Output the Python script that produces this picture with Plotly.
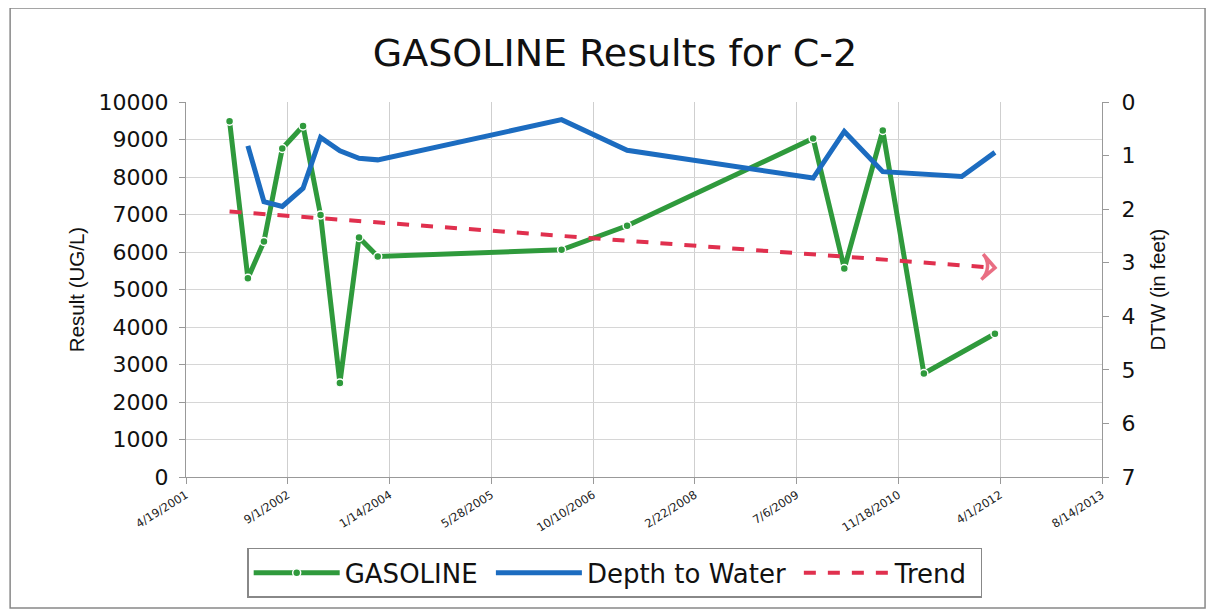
import plotly.graph_objects as go

# ---- data ----
gas_dates = ["2001-11-19", "2002-02-17", "2002-05-07", "2002-08-05", "2002-11-15",
             "2003-02-09", "2003-05-15", "2003-08-17", "2003-11-17", "2006-05-08",
             "2007-03-26", "2009-09-25", "2010-02-25", "2010-09-02", "2011-03-23",
             "2012-03-06"]
gas_values = [9490, 5300, 6280, 8760, 9360, 6990, 2510, 6390, 5880, 6060,
              6700, 9030, 5560, 9240, 2760, 3820]

dtw_dates = ["2002-02-17", "2002-05-07", "2002-08-05", "2002-11-15", "2003-02-09",
             "2003-05-15", "2003-08-17", "2003-11-17", "2006-05-08", "2007-03-26",
             "2009-09-25", "2010-02-25", "2010-09-02", "2011-09-25", "2012-03-06"]
dtw_values = [0.82, 1.86, 1.95, 1.61, 0.66, 0.91, 1.05, 1.08, 0.33, 0.90,
              1.42, 0.55, 1.30, 1.39, 0.94]

trend_dates = ["2001-11-19", "2012-03-06"]
trend_values = [7080, 5580]

x_range = ["2001-04-19", "2013-08-14"]
x_tick0 = "2001-04-19"
x_tick_days = 500

series_names = ["GASOLINE", "Depth to Water", "Trend"]

GREEN = "#2f9a3c"
BLUE = "#1c6cc0"
RED = "#e0304e"
WIDE = "DejaVu Sans, Liberation Sans, Arial, sans-serif"
ARIAL = "Liberation Sans, Arial, sans-serif"
PAD = "\u00a0"  # small trailing gap in legend entries

fig = go.Figure()

fig.add_trace(go.Scatter(
    x=gas_dates, y=gas_values, name=series_names[0] + PAD, mode="lines+markers",
    line=dict(color=GREEN, width=5),
    marker=dict(size=8, color=GREEN, line=dict(color="white", width=1.5)),
    yaxis="y"))

fig.add_trace(go.Scatter(
    x=dtw_dates, y=dtw_values, name=series_names[1] + PAD, mode="lines",
    line=dict(color=BLUE, width=5), yaxis="y2"))

fig.add_trace(go.Scatter(
    x=trend_dates, y=trend_values, name=series_names[2] + PAD, mode="lines",
    line=dict(color=RED, width=4, dash="dash"), yaxis="y"))

# arrow head at the end of the trend line
fig.add_trace(go.Scatter(
    x=trend_dates, y=trend_values, mode="markers", showlegend=False,
    hoverinfo="skip",
    marker=dict(size=[0, 18], symbol="arrow-wide-open", angleref="previous",
                color=RED, line=dict(color=RED, width=3.5)),
    yaxis="y"))

fig.update_layout(
    width=1215, height=615,
    paper_bgcolor="white", plot_bgcolor="white",
    margin=dict(l=178, r=121, t=94, b=146),
    font=dict(family=WIDE, color="#111"),
    title=dict(text="GASOLINE Results for C-2", x=0.4996, xref="container",
               xanchor="center", y=0.928, yref="container", yanchor="middle",
               font=dict(family=WIDE, size=38, color="#111")),
    xaxis=dict(type="date", range=x_range, tick0=x_tick0,
               dtick=x_tick_days * 86400000, tickformat="%-m/%-d/%Y",
               tickangle=-32, tickfont=dict(family=WIDE, size=11.5, color="#222"),
               showgrid=True, gridcolor="#cfcfcf", gridwidth=1,
               showline=True, linecolor="#999", linewidth=1,
               ticks="outside", ticklen=6, tickcolor="#999", zeroline=False),
    yaxis=dict(range=[0, 10000], dtick=1000, tickformat="d",
               tickfont=dict(family=WIDE, size=22, color="#111"),
               showgrid=True, gridcolor="#d6d6d6", gridwidth=1,
               showline=True, linecolor="#999", linewidth=1,
               ticks="outside", ticklen=6, tickcolor="#999", zeroline=False,
               ticklabelstandoff=6,
               title=dict(text="Result (UG/L)", standoff=8,
                          font=dict(family=ARIAL, size=20.5, color="#111"))),
    yaxis2=dict(range=[7, 0], dtick=1, overlaying="y", side="right",
                tickfont=dict(family=WIDE, size=22, color="#111"), showgrid=False,
                showline=True, linecolor="#999", linewidth=1,
                ticks="outside", ticklen=6, tickcolor="#999", zeroline=False,
                ticklabelstandoff=8,
                title=dict(text="DTW (in feet)", standoff=16,
                           font=dict(family=ARIAL, size=20.5, color="#111"))),
    legend=dict(orientation="h", x=0.468, xanchor="center", y=-0.189, yanchor="top",
                bordercolor="#888", borderwidth=1.5, bgcolor="white",
                font=dict(family=WIDE, size=26, color="#111"),
                itemwidth=86),
    showlegend=True,
    shapes=[dict(type="rect", xref="paper", yref="paper",
                 x0=-0.192, x1=1.1125, y0=-0.349, y1=1.2507,
                 line=dict(color="#888", width=1.5), fillcolor="rgba(0,0,0,0)",
                 layer="below")],
)

fig.write_html("out.html")
